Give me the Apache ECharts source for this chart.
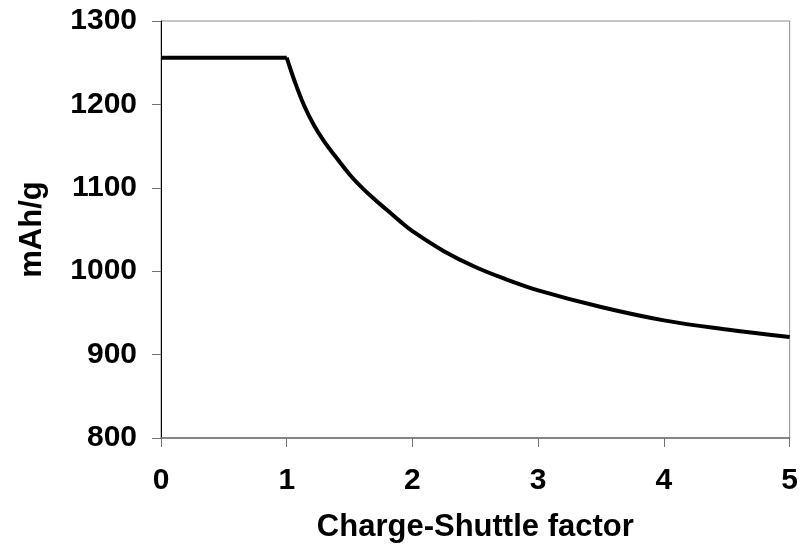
<!DOCTYPE html>
<html>
<head>
<meta charset="utf-8">
<script src="https://cdn.jsdelivr.net/npm/echarts@6/dist/echarts.min.js"></script>
<style>
  html, body { margin: 0; padding: 0; background: #fff; }
  #chart { width: 801px; height: 548px; }
</style>
</head>
<body>
<div id="chart"></div>
<script>
// Charge-shuttle factor (x) against specific capacity in mAh/g (y)
const shuttleFactor = [0, 1, 1.06, 1.14, 1.22, 1.3, 1.38, 1.5, 1.6, 1.7, 1.8, 1.9, 2.0, 2.25, 2.5, 2.75, 3.0, 3.5, 4.0, 4.5, 5.0];
const capacity      = [1256, 1256, 1229, 1198, 1174, 1155, 1139, 1116, 1100, 1086, 1073, 1060, 1048, 1024, 1005, 990, 977, 957, 941, 930, 921];
const xTicks = [0, 1, 2, 3, 4, 5];
const yTicks = [800, 900, 1000, 1100, 1200, 1300];

const points = shuttleFactor.map((x, i) => [x, capacity[i]]);
// capacity is constant up to a factor of 1, then falls off
const kneeIndex = shuttleFactor.indexOf(1);
const plateau = points.slice(0, kneeIndex + 1);
const decay = points.slice(kneeIndex);

const fontBase = { fontFamily: 'Liberation Sans, Arial, sans-serif', fontWeight: 'bold', color: '#000' };
const tickFont = Object.assign({ fontSize: 30 }, fontBase);
const nameFont = Object.assign({ fontSize: 31 }, fontBase);

const chart = echarts.init(document.getElementById('chart'), null, { renderer: 'canvas' });
chart.setOption({
  animation: false,
  backgroundColor: '#fff',
  grid: {
    left: 161, right: 8, top: 21, bottom: 110,
    show: true, borderColor: '#8c8c8c', borderWidth: 1, backgroundColor: 'transparent'
  },
  xAxis: {
    type: 'value',
    min: xTicks[0], max: xTicks[xTicks.length - 1], interval: 1,
    name: 'Charge-Shuttle factor',
    nameLocation: 'middle', nameGap: 74,
    nameTextStyle: nameFont,
    axisLine: { show: true, onZero: false, lineStyle: { color: '#707070', width: 1.5 } },
    axisTick: { show: true, length: 9, lineStyle: { color: '#707070', width: 1 } },
    axisLabel: Object.assign({ margin: 28, formatter: v => String(v) }, tickFont),
    splitLine: { show: false }
  },
  yAxis: {
    type: 'value',
    min: yTicks[0], max: yTicks[yTicks.length - 1], interval: 100,
    name: 'mAh/g',
    nameLocation: 'middle', nameGap: 113, nameRotate: 90,
    nameTextStyle: nameFont,
    axisLine: { show: true, onZero: false, lineStyle: { color: '#000', width: 1 } },
    axisTick: { show: true, length: 9, lineStyle: { color: '#707070', width: 1 } },
    axisLabel: Object.assign({ margin: 24, formatter: v => String(v) }, tickFont),
    splitLine: { show: false }
  },
  series: [{
    type: 'line',
    data: plateau,
    showSymbol: false,
    lineStyle: { color: '#000', width: 4 },
    z: 3
  }, {
    type: 'line',
    data: decay,
    smooth: 0.4,
    showSymbol: false,
    lineStyle: { color: '#000', width: 4 },
    z: 3
  }]
});
</script>
</body>
</html>
